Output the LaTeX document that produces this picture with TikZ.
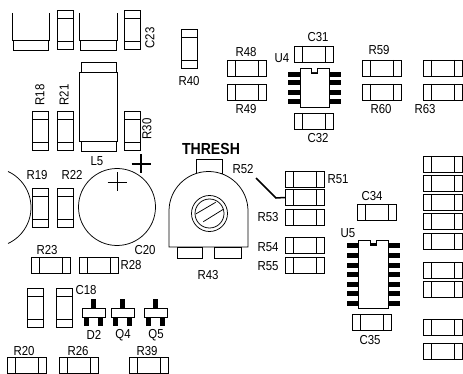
\documentclass[tikz,border=0pt]{standalone}
\usepackage{fontspec}
\setmainfont[FakeStretch=0.88]{Liberation Sans}
\tikzset{
  part/.style={draw=black,line width=0.75pt,inner sep=0pt,outer sep=0pt,anchor=north west,fill=white},
  hbody/.style={part,minimum width=39pt,minimum height=16pt},
  vbody/.style={part,minimum width=16pt,minimum height=39pt},
  lab/.style={font=\fontsize{13}{13}\selectfont,inner sep=0pt},
  wire/.style={line width=0.75pt},
  pin/.style={fill=black,draw=none},
}
\newcommand{\hpart}[3]{\node[hbody] (#1) at (#2,#3) {};
  \draw[wire] ([xshift=8pt]#1.north west)--([xshift=8pt]#1.south west);
  \draw[wire] ([xshift=-8pt]#1.north east)--([xshift=-8pt]#1.south east);}
\newcommand{\vpart}[3]{\node[vbody] (#1) at (#2,#3) {};
  \draw[wire] ([yshift=-8pt]#1.north west)--([yshift=-8pt]#1.north east);
  \draw[wire] ([yshift=8pt]#1.south west)--([yshift=8pt]#1.south east);}
\newcommand{\sot}[2]{% x of body left, D/Q
  \fill[pin] (#1+9,299) rectangle (#1+14,308);
  \fill[pin] (#1+2,317) rectangle (#1+7,326);
  \fill[pin] (#1+16,317) rectangle (#1+21,326);
  \node[part,minimum width=23pt,minimum height=9pt] (#2) at (#1,308) {};}
\begin{document}
\begin{tikzpicture}[x=1pt,y=-1pt]
\useasboundingbox (0,0) rectangle (463,374);
% top-left bodies
\draw[wire] (12.5,13)--(12.5,40)--(49,40)--(49,13);
\node[part,minimum width=35pt,minimum height=10pt] (padA) at (13.5,40) {};
\draw[wire] (79.5,13)--(79.5,40)--(117,40)--(117,13);
\node[part,minimum width=36pt,minimum height=10pt] (padB) at (80.5,40) {};
\vpart{ta}{57}{10.5}
\vpart{tb}{124}{10.5}
% L5
\node[part,minimum width=35pt,minimum height=10pt] (lT) at (81,62) {};
\node[part,minimum width=38pt,minimum height=69pt] (lB) at (79,72) {};
\node[part,minimum width=35pt,minimum height=10pt] (lP) at (81,141) {};
\vpart{pR18}{32.5}{111}
\vpart{pR21}{57}{111}
\vpart{pR30}{124}{111}
\vpart{pR19}{32.5}{188}
\vpart{pR22}{57}{188}
% arc and C20
\draw[wire] (8.1,171.5) arc[start angle=65,end angle=-65,radius=39.7pt];
\node[draw,circle,line width=0.75pt,inner sep=0pt,minimum size=77pt] (c20) at (117,207) {};
\draw[line width=0.9pt] (107.5,182)--(126.5,182) (117,172.5)--(117,191.5);
\draw[line width=1.6pt] (131.5,164)--(150.5,164) (141,154.5)--(141,173.5);
\hpart{pR23}{31}{257}
\hpart{pR28}{79}{257}
\vpart{pa}{27.5}{288.5}
\vpart{pC18}{56.5}{288.5}
\sot{82}{d2}
\sot{111}{q4}
\sot{144}{q5}
\hpart{pR20}{7.5}{357.5}
\hpart{pR26}{59}{357.5}
\hpart{pR39}{129}{357.5}
% R40 etc
\vpart{pR40}{181.5}{29.5}
\hpart{pR48}{227.5}{60}
\hpart{pR49}{227.5}{84}
\hpart{pC31}{294.5}{46}
\hpart{pC32}{294.5}{113}
\hpart{pR59}{362}{60}
\hpart{pR60}{362}{84}
\hpart{pR63a}{423.5}{60}
\hpart{pR63b}{423.5}{84}
% U4
\foreach \y in {72,80.5,90,99}{
  \fill[pin] (288,\y) rectangle (341,\y+5);}
\draw[part] (300,68)--(311,68)--(311,73)--(317,73)--(317,68)--(329,68)--(329,107)--(300,107)--cycle;
% Pot
\node[part,minimum width=26pt,minimum height=14pt] (potT) at (196,159) {};
\draw[wire,fill=white] (169,211) arc[start angle=180,end angle=0,radius=39.5pt]--(248,247)--(169,247)--cycle;
\node[part,minimum width=25pt,minimum height=11pt] (potL) at (177,247) {};
\node[part,minimum width=27pt,minimum height=11pt] (potR) at (214,247) {};
\node[draw,circle,line width=0.75pt,inner sep=0pt,minimum size=36pt] (screwO) at (209.5,213.5) {};
\node[draw,circle,line width=0.75pt,inner sep=0pt,minimum size=29pt] (screwI) at (209.5,213.5) {};
\draw[wire] (195.7,214)--(215.7,202.3) (203.3,221.7)--(223.3,209.3);
% R51-55
\hpart{pR51}{285}{171}
\hpart{pR52}{285}{189.5}
\hpart{pR53}{285}{209.5}
\hpart{pR54}{285}{237.5}
\hpart{pR55}{285}{257}
\coordinate (leadS) at (256,178);
\coordinate (leadB) at (276,198);
\draw[line width=1.5pt] (leadS)--(leadB)--(pR52.west);
% right column
\foreach \n/\y in {a/156,b/175,c/194,d/213,e/233,f/262,g/281,h/319,i/343}{
  \hpart{col\n}{423.5}{\y}}
\hpart{pC34}{357}{204}
\hpart{pC35}{352.5}{314.5}
% U5
\foreach \y in {243,253,263,272,282,291,301}{
  \fill[pin] (347,\y) rectangle (400,\y+5);}
\draw[part] (358,240)--(370,240)--(370,245)--(376,245)--(376,240)--(388,240)--(388,308)--(358,308)--cycle;
% labels
\node[lab,rotate=90] (tR18) at (40,95) {R18};
\node[lab,rotate=90] (tR21) at (64,95) {R21};
\node[lab,rotate=90] (tC23) at (150,38) {C23};
\node[lab,rotate=90] (tR30) at (147,129) {R30};
\node[lab] (tL5) at (97,161) {L5};
\node[lab] (tR19) at (37,175) {R19};
\node[lab] (tR22) at (72,175) {R22};
\node[lab] (tR23) at (47,250) {R23};
\node[lab] (tC20) at (145,250) {C20};
\node[lab] (tR28) at (131,265) {R28};
\node[lab] (tC18) at (86,290) {C18};
\node[lab] (tD2) at (94,335) {D2};
\node[lab] (tQ4) at (123,335) {Q4};
\node[lab] (tQ5) at (156,335) {Q5};
\node[lab] (tR20) at (24,351) {R20};
\node[lab] (tR26) at (78,351) {R26};
\node[lab] (tR39) at (147,351) {R39};
\node[lab] (tR40) at (189,81) {R40};
\node[lab] (tR48) at (246,52) {R48};
\node[lab] (tR49) at (246,109) {R49};
\node[lab] (tC31) at (318,37) {C31};
\node[lab] (tU4) at (282,58) {U4};
\node[lab] (tC32) at (318,138) {C32};
\node[lab] (tR59) at (379,50) {R59};
\node[lab] (tR60) at (381,109) {R60};
\node[lab] (tR63) at (425,109) {R63};
\node[font=\fontsize{16}{16}\selectfont\bfseries,inner sep=0pt] (tTH) at (211,149) {THRESH};
\node[lab] (tR52) at (243,169) {R52};
\node[lab] (tR51) at (338,179) {R51};
\node[lab] (tR53) at (268,217) {R53};
\node[lab] (tR54) at (268,247) {R54};
\node[lab] (tR55) at (268,266) {R55};
\node[lab] (tR43) at (208,275) {R43};
\node[lab] (tC34) at (372,196) {C34};
\node[lab] (tU5) at (348,233) {U5};
\node[lab] (tC35) at (370,340) {C35};
\end{tikzpicture}
\end{document}
